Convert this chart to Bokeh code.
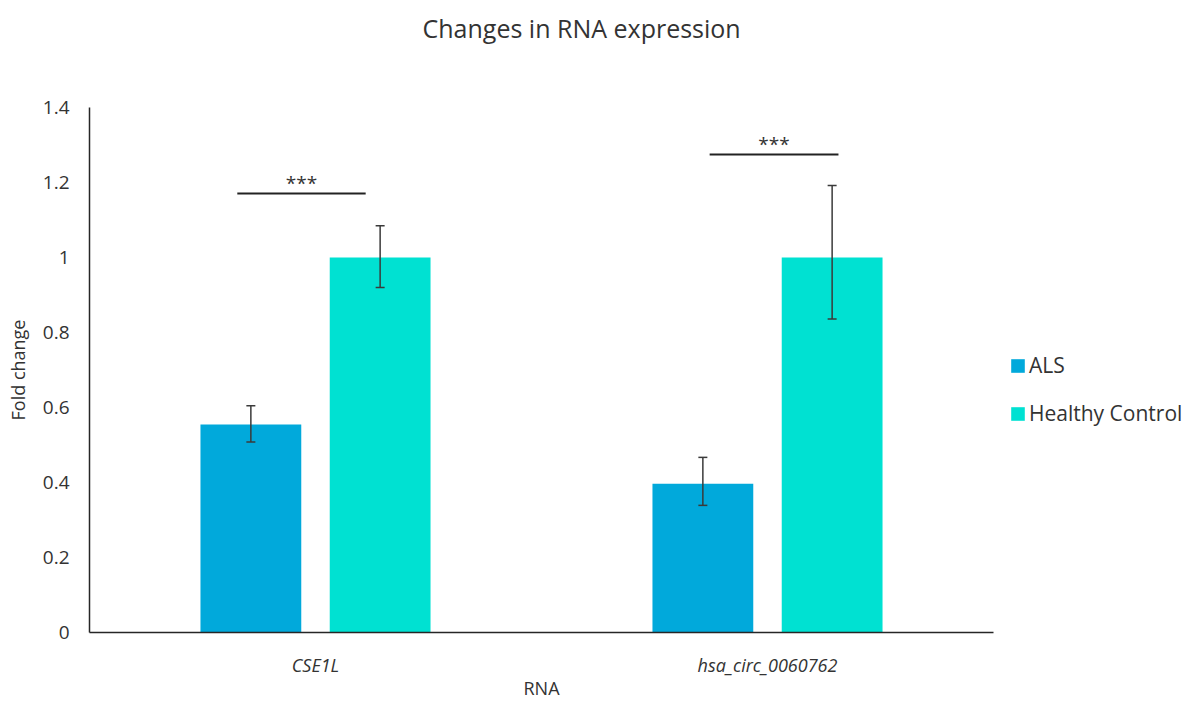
from bokeh.plotting import figure
from bokeh.models import (ColumnDataSource, Whisker, Legend, LegendItem, FixedTicker,
                          CustomJSTickFormatter, TeeHead, Range1d, Title)
from bokeh.transform import dodge
from bokeh.core.properties import value
from bokeh.embed import file_html
from bokeh.resources import INLINE

# ---- data ----
rna = ["CSE1L", "hsa_circ_0060762"]
als = [0.555, 0.397]
als_upper = [0.605, 0.467]
als_lower = [0.508, 0.339]
hc = [1.0, 1.0]
hc_upper = [1.085, 1.192]
hc_lower = [0.920, 0.836]
sig_y = [1.171, 1.275]
sig_text = ["***", "***"]
y_ticks = [0, 0.2, 0.4, 0.6, 0.8, 1.0, 1.2, 1.4]
series_names = ["ALS", "Healthy Control"]

FONT = "Open Sans"
ALS_COLOR = "#01A9DB"
HC_COLOR = "#00E1D2"
TEXT = "#333333"

p = figure(frame_width=904, frame_height=525, x_range=rna, y_range=Range1d(0, 1.4),
           output_backend="svg", toolbar_location=None,
           min_border_left=89, min_border_right=186, min_border_top=107, min_border_bottom=70)
p.x_range.range_padding = 0
p.outline_line_color = None
p.xgrid.visible = False
p.ygrid.visible = False

src = ColumnDataSource(dict(rna=rna, als=als, als_upper=als_upper, als_lower=als_lower,
                            hc=hc, hc_upper=hc_upper, hc_lower=hc_lower))

OFF = 0.143
W = 0.223
r_als = p.vbar(x=dodge("rna", -OFF, range=p.x_range), top="als", width=W, source=src,
               fill_color=ALS_COLOR, line_color=None)
r_hc = p.vbar(x=dodge("rna", OFF, range=p.x_range), top="hc", width=W, source=src,
              fill_color=HC_COLOR, line_color=None)

for off, up, lo in [(-OFF, "als_upper", "als_lower"), (OFF, "hc_upper", "hc_lower")]:
    w = Whisker(base=dodge("rna", off, range=p.x_range), upper=up, lower=lo, source=src,
                line_color="#3a3a3a", line_width=1.5, level="annotation",
                upper_head=TeeHead(size=9, line_color="#3a3a3a", line_width=1.5),
                lower_head=TeeHead(size=9, line_color="#3a3a3a", line_width=1.5))
    p.add_layout(w)

# significance bars
for i, (x0off, x1off) in enumerate([(-0.173, 0.111), (-0.128, 0.157)]):
    s = ColumnDataSource(dict(rna=[rna[i]], y=[sig_y[i]], t=[sig_text[i]]))
    p.segment(x0=dodge("rna", x0off, range=p.x_range), x1=dodge("rna", x1off, range=p.x_range),
              y0="y", y1="y", source=s, line_color="#222222", line_width=2)
    p.text(x=dodge("rna", (x0off + x1off) / 2, range=p.x_range), y="y", text="t", source=s,
           text_align="center", text_baseline="alphabetic", y_offset=-10,
           text_font=value(FONT), text_font_size="19px", text_color="#333333")

# axes
p.yaxis.ticker = FixedTicker(ticks=y_ticks)
p.yaxis.formatter = CustomJSTickFormatter(code="return Number(tick.toFixed(1)).toString();")
for ax in (p.xaxis, p.yaxis):
    ax.major_tick_line_color = None
    ax.minor_tick_line_color = None
    ax.major_tick_out = 0
    ax.major_tick_in = 0
    ax.minor_tick_out = 0
    ax.minor_tick_in = 0
    ax.axis_line_color = "#262626"
    ax.axis_line_width = 1.5
    ax.major_label_text_font = FONT
    ax.major_label_text_font_size = "19px"
    ax.major_label_text_color = TEXT
    ax.axis_label_text_font = FONT
    ax.axis_label_text_font_style = "normal"
    ax.axis_label_text_font_size = "18px"
    ax.axis_label_text_color = TEXT

p.yaxis.major_label_standoff = 20
p.yaxis.axis_label = "Fold change"
p.yaxis.axis_label_standoff = 10
p.xaxis.major_label_text_font_style = "italic"
p.xaxis.major_label_text_font_size = "18px"
p.xaxis.major_label_standoff = 20
p.xaxis.axis_label = "RNA"
p.xaxis.axis_label_standoff = -4

# spacer between frame and title
spacer = Title(text=" ", text_font_size="10px", standoff=50)
p.add_layout(spacer, "above")

# title
p.title.text = "Changes in RNA expression"
p.title.align = "left"
p.title.offset = 333
p.title.standoff = 0
p.title.text_font = FONT
p.title.text_font_style = "normal"
p.title.text_font_size = "25px"
p.title.text_color = TEXT

# legend
legend = Legend(items=[LegendItem(label=series_names[0], renderers=[r_als]),
                       LegendItem(label=series_names[1], renderers=[r_hc])],
                location=(16, 205), orientation="vertical",
                padding=0, margin=0, spacing=20, label_standoff=3,
                glyph_width=17, glyph_height=17,
                border_line_color=None, background_fill_alpha=0,
                label_text_font=FONT, label_text_font_size="21px", label_text_color=TEXT)
p.add_layout(legend, "right")

open("out.html", "w").write(file_html(p, INLINE))
